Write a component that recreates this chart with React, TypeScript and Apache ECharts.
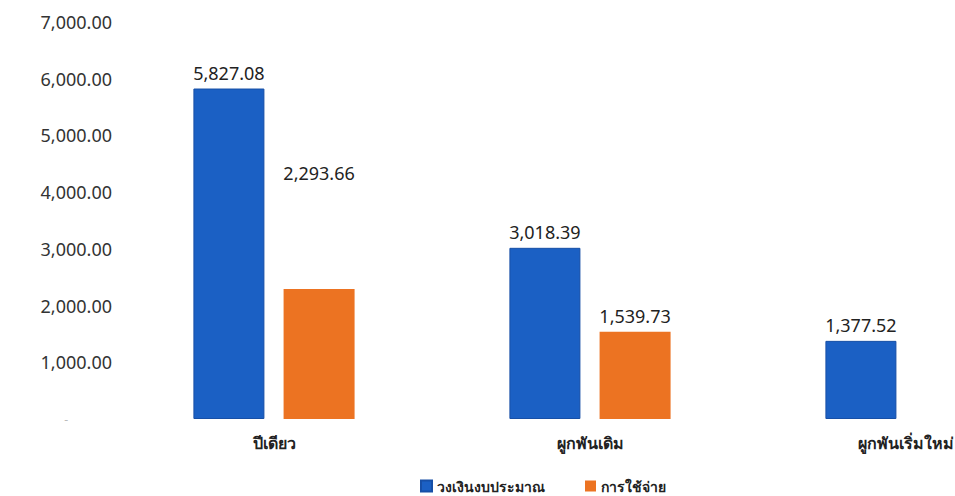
import React, { useEffect, useRef } from "react";
import * as echarts from "echarts";

const categories = ["ปีเดียว", "ผูกพันเดิม", "ผูกพันเริ่มใหม่"];
const seriesNames = ["วงเงินงบประมาณ", "การใช้จ่าย"];
const budgetValues = [5827.08, 3018.39, 1377.52];
const spendingValues: (number | null)[] = [2293.66, 1539.73, null];
const yMin = 0;
const yMax = 7000;
const yInterval = 1000;

const fmt = (v: number) =>
  v.toLocaleString("en-US", { minimumFractionDigits: 2, maximumFractionDigits: 2 });

export default function App() {
  const ref = useRef<HTMLDivElement>(null);
  useEffect(() => {
    const chart = echarts.init(ref.current!, null, { renderer: "svg" });
    const font = "Tahoma, 'Noto Sans', 'DejaVu Sans', sans-serif";
    chart.setOption({
      animation: false,
      textStyle: { fontFamily: font },
      grid: { left: 116, top: 22, width: 948, height: 397, containLabel: false },
      legend: {
        left: 415,
        top: 473,
        itemWidth: 11,
        itemHeight: 11,
        itemGap: 40,
        icon: "rect",
        textStyle: { fontSize: 14, lineHeight: 16, fontWeight: "bold", color: "#222", fontFamily: font },
        data: seriesNames,
      },
      xAxis: {
        type: "category",
        data: categories,
        axisLine: { show: false },
        axisTick: { show: false },
        axisLabel: { fontSize: 16, fontWeight: "bold", color: "#222", margin: 16 },
      },
      yAxis: {
        type: "value",
        min: yMin,
        max: yMax,
        interval: yInterval,
        splitLine: { show: false },
        axisLine: { show: false },
        axisTick: { show: false },
        axisLabel: {
          fontSize: 18,
          color: "#333",
          margin: 4,
          formatter: (v: number) => (v === 0 ? "{d|-}" : fmt(v)),
          rich: { d: { color: "#bbb", fontSize: 12, padding: [0, 44, 0, 0] } },
        },
      },
      series: [
        {
          name: seriesNames[0],
          type: "bar",
          data: budgetValues,
          barWidth: 71,
          barGap: "27%",
          itemStyle: { color: "#1B60C4", borderColor: "#174FA6", borderWidth: 1 },
          label: {
            show: true,
            position: "top",
            distance: 7,
            fontSize: 18,
            color: "#222",
            formatter: (p: any) => fmt(p.value),
          },
        },
        {
          name: seriesNames[1],
          type: "bar",
          data: spendingValues.map((v, i) =>
            i === 0 ? { value: v, label: { offset: [0, -100] } } : v
          ),
          barWidth: 71,
          itemStyle: { color: "#EC7322" },
          label: {
            show: true,
            position: "top",
            distance: 7,
            fontSize: 18,
            color: "#222",
            formatter: (p: any) => (p.value == null ? "" : fmt(p.value)),
          },
        },
      ],
    });
    return () => chart.dispose();
  }, []);
  return (
    <div
      style={{ position: "fixed", left: 0, top: 0, width: 955, height: 496, overflow: "hidden", background: "#fff" }}
    >
      <div ref={ref} style={{ width: 1070, height: 496 }} />
    </div>
  );
}
